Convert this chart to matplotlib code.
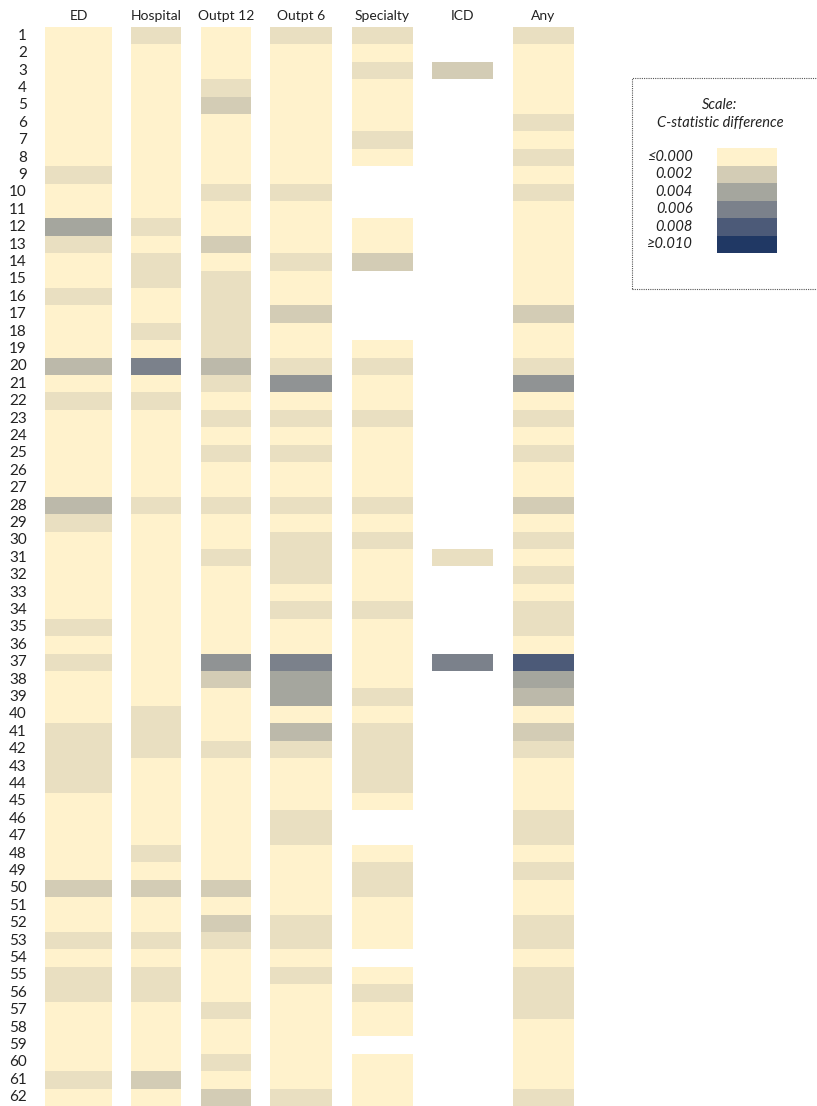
import numpy as np
import matplotlib
matplotlib.use("Agg")
import matplotlib.pyplot as plt
from matplotlib.colors import LinearSegmentedColormap, Normalize
from matplotlib.patches import Rectangle

plt.rcParams['font.family'] = ['Lato', 'DejaVu Sans']

# C-statistic differences, in thousandths (None = not available)
N = None
rows = list(range(1, 63))
columns = ["ED", "Hospital", "Outpt 12", "Outpt 6", "Specialty", "ICD", "Any"]

ed = [0, 0, 0, 0, 0, 0, 0, 0, 1, 0,
      0, 4, 1, 0, 0, 1, 0, 0, 0, 3,
      0, 1, 0, 0, 0, 0, 0, 3, 1, 0,
      0, 0, 0, 0, 1, 0, 1, 0, 0, 0,
      1, 1, 1, 1, 0, 0, 0, 0, 0, 2,
      0, 0, 1, 0, 1, 1, 0, 0, 0, 0,
      1, 0]
hospital = [1, 0, 0, 0, 0, 0, 0, 0, 0, 0,
            0, 1, 0, 1, 1, 0, 0, 1, 0, 6,
            0, 1, 0, 0, 0, 0, 0, 1, 0, 0,
            0, 0, 0, 0, 0, 0, 0, 0, 0, 1,
            1, 1, 0, 0, 0, 0, 0, 1, 0, 2,
            0, 0, 1, 0, 1, 1, 0, 0, 0, 0,
            2, 0]
outpt12 = [0, 0, 0, 1, 2, 0, 0, 0, 0, 1,
           0, 0, 2, 0, 1, 1, 1, 1, 1, 3,
           1, 0, 1, 0, 1, 0, 0, 1, 0, 0,
           1, 0, 0, 0, 0, 0, 5, 2, 0, 0,
           0, 1, 0, 0, 0, 0, 0, 0, 0, 2,
           0, 2, 1, 0, 0, 0, 1, 0, 0, 1,
           0, 2]
outpt6 = [1, 0, 0, 0, 0, 0, 0, 0, 0, 1,
          0, 0, 0, 1, 0, 0, 2, 0, 0, 1,
          5, 0, 1, 0, 1, 0, 0, 1, 0, 1,
          1, 1, 0, 1, 0, 0, 6, 4, 4, 0,
          3, 1, 0, 0, 0, 1, 1, 0, 0, 0,
          0, 1, 1, 0, 1, 0, 0, 0, 0, 0,
          0, 1]
specialty = [1, 0, 1, 0, 0, 0, 1, 0, N, N,
             N, 0, 0, 2, N, N, N, N, 0, 1,
             0, 0, 1, 0, 0, 0, 0, 1, 0, 1,
             0, 0, 0, 1, 0, 0, 0, 0, 1, 0,
             1, 1, 1, 1, 0, N, N, 0, 1, 1,
             0, 0, 0, N, 0, 1, 0, 0, N, 0,
             0, 0]
icd = [N] * 62
icd[2], icd[30], icd[36] = 2, 1, 6
any_ = [1, 0, 0, 0, 0, 1, 0, 1, 0, 1,
        0, 0, 0, 0, 0, 0, 2, 0, 0, 1,
        5, 0, 1, 0, 1, 0, 0, 2, 0, 1,
        0, 1, 0, 1, 1, 0, 8, 4, 3, 0,
        2, 1, 0, 0, 0, 1, 1, 0, 1, 0,
        0, 1, 1, 0, 1, 1, 1, 0, 0, 0,
        0, 1]

legend_values = [0.000, 0.002, 0.004, 0.006, 0.008, 0.010]
legend_labels = ["≤0.000", "0.002", "0.004", "0.006", "0.008", "≥0.010"]

series = [ed, hospital, outpt12, outpt6, specialty, icd, any_]

cmap = LinearSegmentedColormap.from_list("cstat", [
    (0.0, "#FFF2CC"), (0.2, "#D3CCB5"), (0.4, "#A5A69E"),
    (0.6, "#7B818B"), (0.8, "#4C5A78"), (1.0, "#203864")])
cmap.set_bad((1, 1, 1, 0))
norm = Normalize(0, 0.010)

W, H = 817, 1106
fig = plt.figure(figsize=(W / 100, H / 100), dpi=100)

ax = fig.add_axes([0, 0, 1, (H - 27) / H])
ax.set_xlim(0, W)
ax.set_ylim(62.5, 0.5)
ax.axis('off')

widths = [67, 50, 50, 62, 61, 61, 61]
gap = 19.5
x0 = 45
row_edges = np.arange(0.5, 63.5, 1)
for name, vals, w in zip(columns, series, widths):
    v = np.array([np.nan if a is None else a / 1000 for a in vals])
    v = np.ma.masked_invalid(v)[:, None]
    ax.pcolormesh([x0, x0 + w], row_edges, v, cmap=cmap, norm=norm,
                  edgecolors='face', linewidth=0)
    ax.text(x0 + w / 2, -0.13, name, ha='center', va='center',
            fontsize=10, color='#222222', clip_on=False)
    x0 += w + gap

for r in rows:
    ax.text(27, r, str(r), ha='right', va='center', fontsize=11, color='#222222')

# legend box
fig.patches.append(Rectangle((632 / W, 1 - 289 / H), (W + 5 - 632) / W, (289 - 78) / H,
                             transform=fig.transFigure, fill=False,
                             linestyle=(0, (1, 1)), linewidth=0.8, edgecolor='#555555'))
fig.text(720 / W, 1 - 105 / H, "Scale:", ha='center', va='center',
         fontsize=10.5, style='italic', color='#222222')
fig.text(720 / W, 1 - 123 / H, "C-statistic difference", ha='center', va='center',
         fontsize=10.5, style='italic', color='#222222')

lax = fig.add_axes([717 / W, 1 - 253 / H, 60 / W, 105 / H])
lax.pcolormesh([0, 1], np.arange(len(legend_values) + 1),
               np.array(legend_values)[:, None], cmap=cmap, norm=norm,
               edgecolors='face', linewidth=0)
lax.set_xlim(0, 1)
lax.set_ylim(len(legend_values), 0)
lax.axis('off')
for i, lab in enumerate(legend_labels):
    lax.text(-0.4, i + 0.5, lab, ha='right', va='center', fontsize=10.5,
             style='italic', color='#222222', clip_on=False)

fig.savefig("out.png", dpi=100)
